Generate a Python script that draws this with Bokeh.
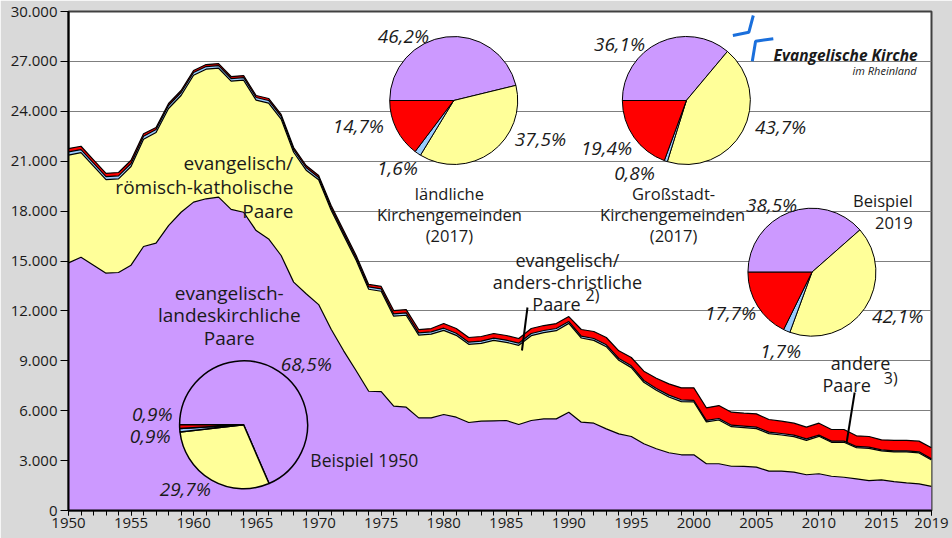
import math
from bokeh.plotting import figure
from bokeh.models import Range1d, FixedTicker, Label, ColumnDataSource
from bokeh.embed import file_html
from bokeh.resources import INLINE

# ---------------- data ----------------
years = list(range(1950, 2020))

ev_landeskirchlich = [
    14890, 15230, 14750, 14270, 14310, 14750, 15870, 16070, 17130, 17930,
    18540, 18740, 18840, 18100, 17930, 16830, 16330, 15330, 13730, 13030,
    12380, 10900, 9600, 8400, 7170, 7150, 6270, 6210, 5570, 5570,
    5770, 5610, 5290, 5370, 5390, 5410, 5170, 5410, 5510, 5510,
    5910, 5310, 5250, 4910, 4610, 4450, 4010, 3710, 3470, 3350,
    3350, 2810, 2810, 2660, 2650, 2610, 2370, 2370, 2310, 2150,
    2210, 2060, 2000, 1900, 1800, 1840, 1740, 1660, 1600, 1450]

ev_roem_kath = [
    6478, 6290, 5950, 5620, 5630, 5930, 6450, 6660, 7040, 7020,
    7630, 7790, 7750, 7710, 7940, 7840, 8160, 8200, 7810, 7430,
    7500, 7150, 6940, 6640, 6130, 6030, 5410, 5530, 4970, 5030,
    5060, 4920, 4700, 4680, 4840, 4700, 4760, 5100, 5180, 5300,
    5340, 5060, 4980, 4940, 4420, 4140, 3695, 3515, 3355, 3195,
    3175, 2515, 2630, 2380, 2330, 2310, 2250, 2170, 2130, 2070,
    2250, 2040, 2100, 1880, 1940, 1740, 1780, 1860, 1860, 1589]

ev_anders_christlich = [
    196, 180, 180, 180, 180, 180, 180, 180, 180, 180,
    160, 160, 160, 160, 160, 160, 160, 160, 160, 160,
    140, 140, 140, 140, 140, 140, 140, 140, 140, 140,
    130, 130, 130, 130, 130, 130, 130, 130, 130, 130,
    110, 110, 110, 110, 110, 110, 110, 110, 110, 110,
    90, 90, 90, 90, 90, 90, 90, 90, 90, 90,
    70, 70, 70, 70, 70, 70, 70, 70, 70, 64]

andere = [
    196, 200, 200, 200, 200, 200, 150, 120, 120, 120,
    120, 120, 120, 120, 120, 120, 120, 120, 120, 120,
    120, 150, 150, 150, 150, 150, 200, 200, 200, 200,
    280, 280, 280, 280, 280, 280, 280, 300, 300, 300,
    300, 400, 420, 440, 460, 500, 560, 620, 680, 720,
    760, 760, 780, 780, 780, 800, 760, 740, 720, 700,
    720, 700, 700, 640, 640, 600, 620, 620, 640, 667]

y_ticks = [0, 3000, 6000, 9000, 12000, 15000, 18000, 21000, 24000, 27000, 30000]
y_tick_labels = ["0", "3.000", "6.000", "9.000", "12.000", "15.000", "18.000",
                 "21.000", "24.000", "27.000", "30.000"]
x_label_years = [1950, 1955, 1960, 1965, 1970, 1975, 1980, 1985, 1990, 1995,
                 2000, 2005, 2010, 2015, 2019]

# pie shares: landeskirchlich, röm.-kath., anders-christlich, andere
pie_1950 = [68.5, 29.7, 0.9, 0.9]
pie_laendlich = [46.2, 37.5, 1.6, 14.7]
pie_grossstadt = [36.1, 43.7, 0.8, 19.4]
pie_2019 = [38.5, 42.1, 1.7, 17.7]

# ---------------- style ----------------
C_PURPLE = "#cc99ff"
C_YELLOW = "#ffff99"
C_BLUE = "#99ccff"
C_RED = "#ff0000"
COLORS = [C_PURPLE, C_YELLOW, C_BLUE, C_RED]
FONT = "Open Sans"
TXT = "#1a1a1a"

p = figure(width=952, height=538, x_range=Range1d(1950, 2019), y_range=Range1d(0, 30000),
           output_backend="svg", toolbar_location=None,
           min_border_left=68, min_border_right=21, min_border_top=11, min_border_bottom=28)
p.background_fill_color = "white"
p.border_fill_color = "#d9d9d9"
p.outline_line_color = "#404040"
p.outline_line_width = 2

# axes
p.xaxis.ticker = FixedTicker(ticks=x_label_years, minor_ticks=years)
p.xaxis.major_tick_in = 0
p.xaxis.major_tick_out = 5
p.xaxis.minor_tick_in = 0
p.xaxis.minor_tick_out = 5
p.xaxis.major_label_standoff = 2
p.yaxis.ticker = FixedTicker(ticks=y_ticks, minor_ticks=[])
p.yaxis.major_label_overrides = {t: l for t, l in zip(y_ticks, y_tick_labels)}
p.yaxis.major_tick_in = 0
p.yaxis.major_tick_out = 8
p.yaxis.major_label_standoff = 3
for ax in (p.xaxis, p.yaxis):
    ax.axis_line_color = "black"
    ax.axis_line_width = 2
    ax.major_tick_line_color = "black"
    ax.minor_tick_line_color = "black"
    ax.major_label_text_font = FONT
    ax.major_label_text_font_size = "15px"
    ax.major_label_text_color = TXT
p.xgrid.visible = False
p.ygrid.ticker = FixedTicker(ticks=y_ticks)
p.ygrid.grid_line_color = "#7f7f7f"
p.ygrid.grid_line_width = 1

# ---------------- stacked areas ----------------
src = ColumnDataSource(dict(year=years, a=ev_landeskirchlich, b=ev_roem_kath,
                            c=ev_anders_christlich, d=andere))
p.varea_stack(stackers=["a", "b", "c", "d"], x="year", color=COLORS, source=src)
cum = [0] * len(years)
for series in (ev_landeskirchlich, ev_roem_kath, ev_anders_christlich, andere):
    cum = [c + s for c, s in zip(cum, series)]
    p.line(years, cum, line_color="black", line_width=1.2)


# ---------------- helpers (reference pixel -> data) ----------------
def dx(px):
    return 1950 + (px - 68.3) * 69 / 862.5


def dy(py):
    return (510 - py) * 30000 / 499


def lab(text, px, py, align="center", size="19px", style="normal", color=TXT, angle=0.0):
    p.add_layout(Label(x=dx(px), y=dy(py), text=text, text_align=align,
                       text_baseline="middle", text_font=FONT, text_font_size=size,
                       text_font_style=style, text_color=color, angle=angle))


def pct(v):
    return ("%.1f" % v).replace(".", ",") + "%"


def pie(shares, cx, cy, r=64, lw=1):
    start = 0.0
    total = sum(shares)
    for share, col in zip(shares, COLORS):
        end = start + share / total
        p.wedge(x=dx(cx), y=dy(cy), radius=r, radius_units="screen",
                start_angle=math.pi - 2 * math.pi * start,
                end_angle=math.pi - 2 * math.pi * end, direction="clock",
                fill_color=col, line_color="black", line_width=lw)
        start = end


# ---------------- pies ----------------
pie(pie_1950, 243.3, 424.3, r=64, lw=1.5)
lab(pct(pie_1950[0]), 306, 363, style="italic")
lab(pct(pie_1950[3]), 152, 413, style="italic")
lab(pct(pie_1950[2]), 150, 435, style="italic")
lab(pct(pie_1950[1]), 185, 488, style="italic")
lab("Beispiel 1950", 310, 459, align="left", size="17.5px")

pie(pie_laendlich, 453.3, 100)
lab(pct(pie_laendlich[0]), 403, 35, style="italic")
lab(pct(pie_laendlich[1]), 540, 138, style="italic")
lab(pct(pie_laendlich[3]), 358, 125, style="italic")
lab(pct(pie_laendlich[2]), 397, 167, style="italic")
lab("ländliche", 449, 193, size="16.5px")
lab("Kirchengemeinden", 449, 214, size="16.5px")
lab("(2017)", 449, 235, size="16.5px")

pie(pie_grossstadt, 685.8, 100)
lab(pct(pie_grossstadt[0]), 619, 43, style="italic")
lab(pct(pie_grossstadt[1]), 780, 126, style="italic")
lab(pct(pie_grossstadt[3]), 606, 147, style="italic")
lab(pct(pie_grossstadt[2]), 634, 172, style="italic")
lab("Großstadt-", 673, 193, size="16.5px")
lab("Kirchengemeinden", 672, 214, size="16.5px")
lab("(2017)", 673, 235, size="16.5px")

pie(pie_2019, 811.3, 271.7)
lab(pct(pie_2019[0]), 771, 204, style="italic")
lab(pct(pie_2019[1]), 897, 315, style="italic")
lab(pct(pie_2019[3]), 730, 312, style="italic")
lab(pct(pie_2019[2]), 780, 350, style="italic")
lab("Beispiel", 912, 200, align="right", size="16.5px")
lab("2019", 912, 222, align="right", size="16.5px")

# ---------------- area labels ----------------
lab("evangelisch/", 293, 162, align="right")
lab("römisch-katholische", 293, 186, align="right")
lab("Paare", 293, 210, align="right")

lab("evangelisch-", 229, 292)
lab("landeskirchliche", 229, 314)
lab("Paare", 229, 337)

lab("evangelisch/", 567, 259, size="18px")
lab("anders-christliche", 567, 281, size="18px")
lab("Paare", 556, 303, size="18px")
lab("2)", 592, 294, size="16px")
p.line([dx(527), dx(521.5)], [dy(307), dy(350)], line_color="black", line_width=2)

lab("andere", 860, 362, size="18px")
lab("Paare", 846, 384, size="18px")
lab("3)", 890, 377, size="16px")
p.line([dx(854), dx(846)], [dy(392), dy(442)], line_color="black", line_width=2)

# ---------------- logo ----------------
LOGO = "#1a6fdc"
p.line([dx(752.7), dx(748.3), dx(732.3)], [dy(15), dy(31.7), dy(35)],
       line_color=LOGO, line_width=3)
p.line([dx(772.7), dx(755), dx(751.7)], [dy(38.3), dy(40.7), dy(60.7)],
       line_color=LOGO, line_width=3)
lab("Evangelische Kirche", 917, 54, align="right", size="15.5px", style="bold italic")
lab("im Rheinland", 916, 70, align="right", size="11px", style="italic")

# credit
lab("F-Martin Rook", 7, 535, align="left", size="10px", color="#a6a6a6",
    angle=math.pi / 2)

open("out.html", "w").write(file_html(p, INLINE))
